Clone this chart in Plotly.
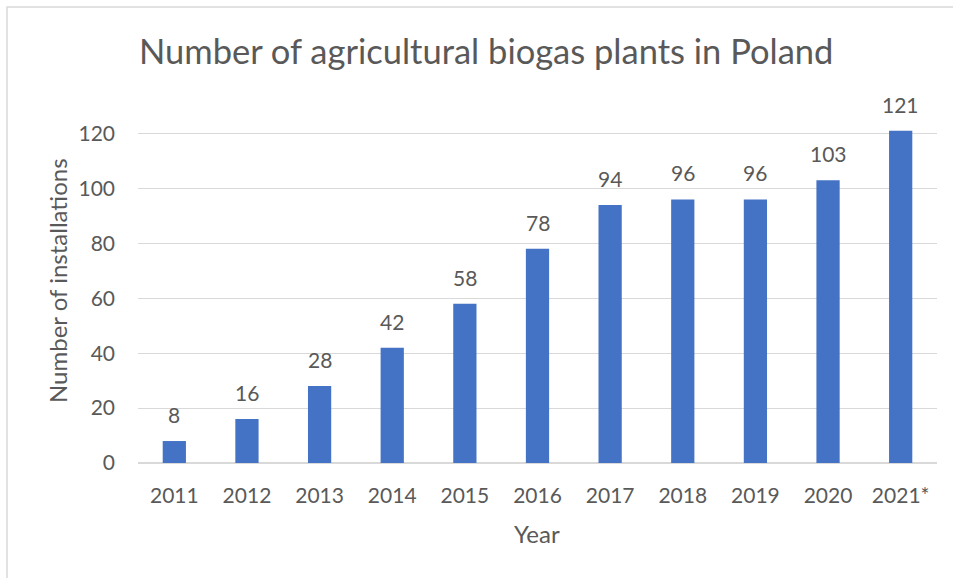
import plotly.graph_objects as go

years = ["2011", "2012", "2013", "2014", "2015", "2016", "2017", "2018", "2019", "2020", "2021*"]
plants = [8, 16, 28, 42, 58, 78, 94, 96, 96, 103, 121]
y_ticks = [0, 20, 40, 60, 80, 100, 120]

W, H = 953, 578
L, R, T, B = 138, 16, 128, 115
pw, ph = W - L - R, H - T - B

def px(x):
    return (x - L) / pw

def py(y):
    return (H - B - y) / ph

FONT = "Lato"
GREY = "#595959"

fig = go.Figure(go.Bar(
    x=years, y=plants, marker_color="#4472C4", marker_line_width=0,
    hoverinfo="x+y",
))

annotations = []
for i, v in enumerate(plants):
    annotations.append(dict(x=i, y=v, text=str(v), showarrow=False, xref="x", yref="y",
                            yanchor="bottom", yshift=12, font=dict(family=FONT, size=21, color=GREY)))

annotations += [
    dict(text="Number of agricultural biogas plants in Poland", x=px(486), y=py(50), xref="paper", yref="paper",
         showarrow=False, xanchor="center", yanchor="middle", font=dict(family=FONT, size=34.5, color=GREY)),
    dict(text="Number of installations", x=px(57), y=py(281), xref="paper", yref="paper", textangle=-90,
         showarrow=False, xanchor="center", yanchor="middle", font=dict(family=FONT, size=24, color=GREY)),
    dict(text="Year", x=px(537), y=py(533), xref="paper", yref="paper",
         showarrow=False, xanchor="center", yanchor="middle", font=dict(family=FONT, size=24, color=GREY)),
]

fig.update_layout(
    width=W, height=H, margin=dict(l=L, r=R, t=T, b=B),
    paper_bgcolor="white", plot_bgcolor="white",
    bargap=0.68, showlegend=False,
    annotations=annotations,
    shapes=[dict(type="rect", xref="paper", yref="paper", x0=px(7), x1=px(W + 20), y0=py(7), y1=py(H + 20),
                 line=dict(color="#D9D9D9", width=1.5), fillcolor="rgba(0,0,0,0)", layer="below")],
    xaxis=dict(type="category", categoryorder="array", categoryarray=years, range=[-0.5, len(years) - 0.5],
               showgrid=False, showline=False, ticks="", ticklabelstandoff=18,
               tickfont=dict(family=FONT, size=21, color=GREY)),
    yaxis=dict(range=[0, 122], tickvals=y_ticks, showgrid=True, gridcolor="#D9D9D9", gridwidth=1,
               zeroline=True, zerolinecolor="#D9D9D9", zerolinewidth=1.5, showline=False, ticks="",
               ticklabelstandoff=22, tickfont=dict(family=FONT, size=21, color=GREY)),
)

fig.write_html("out.html")
